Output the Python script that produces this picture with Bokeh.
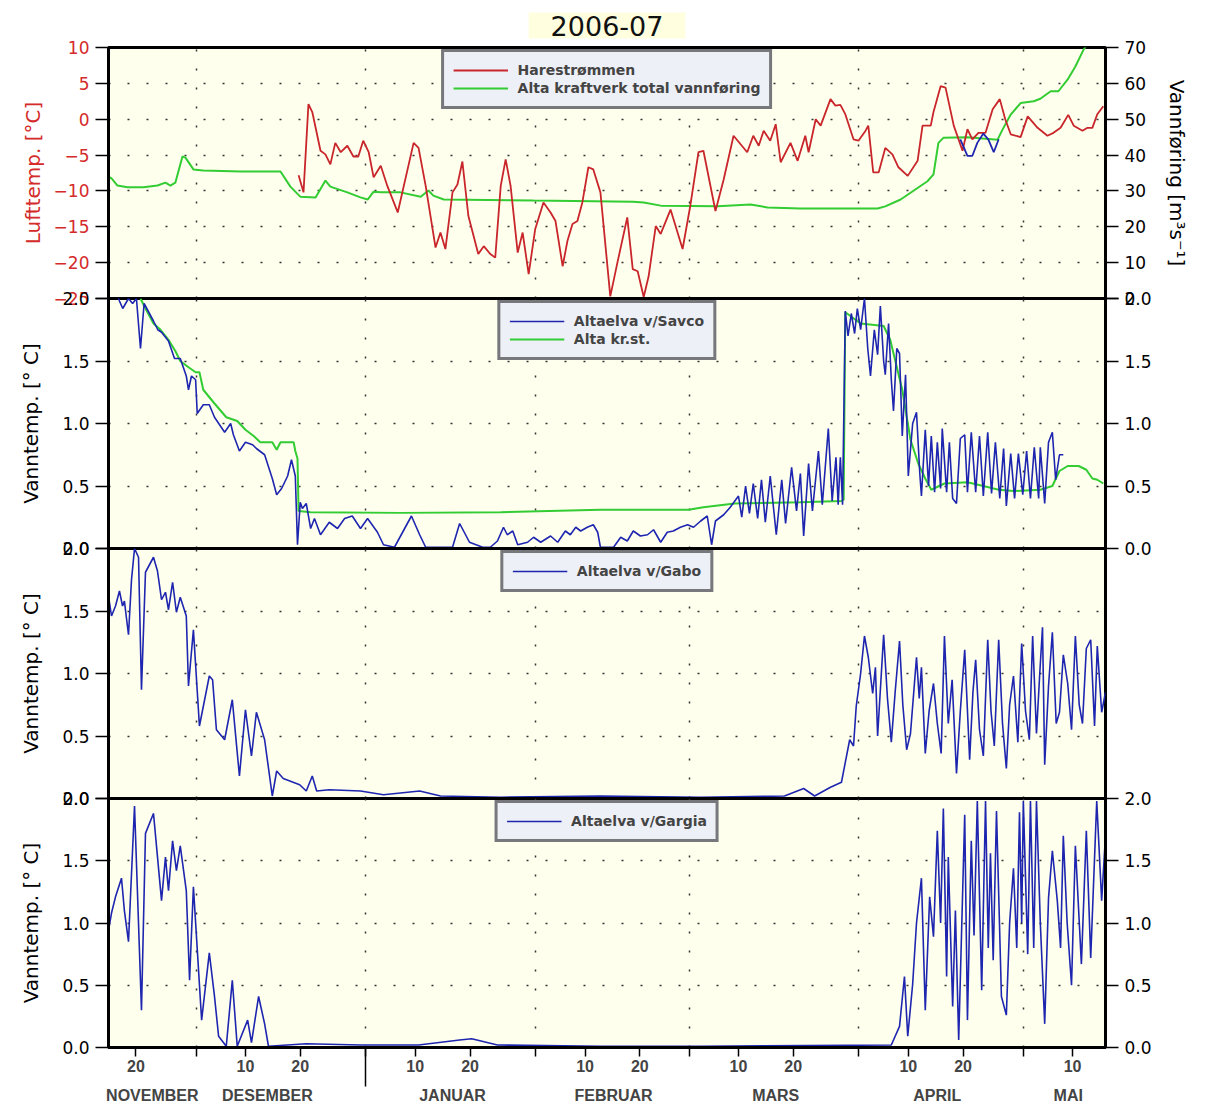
from bokeh.plotting import figure
from bokeh.layouts import column
from bokeh.models import Range1d, LinearAxis, FixedTicker, Grid, Legend, LegendItem
from bokeh.embed import file_html
from bokeh.resources import INLINE

# ---------------- data (x = days since 15 Nov 2006 00:00) ----------------
day_ticks = [5, 25, 35, 56, 66, 87, 97, 115, 125, 146, 156, 176]
day_tick_labels = ["20", "10", "20", "10", "20", "10", "20", "10", "20", "10", "20", "10"]
month_starts = [16, 47, 78, 106, 137, 167]
month_label_pos = [8.0, 29.0, 62.8, 92.2, 121.8, 151.3, 175.2]
month_names = ["NOVEMBER", "DESEMBER", "JANUAR", "FEBRUAR", "MARS", "APRIL", "MAI"]
year_start = [47]

air_ticks = [-25, -20, -15, -10, -5, 0, 5, 10]
air_tick_labels = ["\u221225", "\u221220", "\u221215", "\u221210", "\u22125", "0", "5", "10"]
flow_ticks = [0, 10, 20, 30, 40, 50, 60, 70]
flow_tick_labels = ["0", "10", "20", "30", "40", "50", "60", "70"]
water_ticks = [0.0, 0.5, 1.0, 1.5, 2.0]
water_tick_labels = ["0.0", "0.5", "1.0", "1.5", "2.0"]

# Harestrømmen air temperature
air_day = [34.7, 35.6, 36.5, 37.2, 38.7, 39.6, 40.5, 41.4, 42.4, 43.6, 44.7, 45.6, 46.5, 47.5,
           48.4, 49.7, 50.9, 52.8, 55.7, 56.6, 57.9, 59.7, 60.6, 61.5, 62.8, 63.7, 64.6, 65.7,
           67.5, 68.5, 69.7, 70.6, 71.6, 72.5, 73.4, 74.7, 75.6, 76.7, 77.9, 79.4, 80.7, 81.6,
           82.9, 83.8, 84.7, 85.6, 86.5, 87.6, 88.5, 89.8, 91.6, 92.9, 94.7, 95.7, 96.6, 97.7,
           98.6, 99.9, 100.8, 102.6, 104.8, 106.2, 107.7, 108.6, 110.8, 112.3, 114.1, 116.6,
           117.7, 118.7, 119.6, 120.8, 121.8, 122.7, 124.5, 125.8, 127.2, 127.8, 129.1, 130.0,
           131.8, 132.7, 133.6, 134.5, 136.0, 136.9, 138.2, 138.7, 139.6, 140.6, 141.8, 143.1,
           144.2, 145.9, 147.7, 148.6, 150.1, 150.6, 151.9, 152.8, 154.3, 155.9, 156.8, 157.7,
           158.8, 160.1, 161.4, 162.7, 163.7, 164.7, 166.5, 167.8, 169.6, 171.4, 172.5, 173.8,
           175.2, 176.2, 177.8, 178.7, 179.6, 180.5, 181.6]
air_temp = [-7.8, -10.2, 2.1, 1.0, -4.4, -4.9, -6.3, -3.3, -4.6, -3.7, -5.2, -5.2, -3.0, -4.6,
            -8.1, -6.5, -9.3, -13.0, -3.3, -4.0, -9.3, -17.9, -15.8, -18.1, -10.2, -9.1, -5.9, -13.5,
            -18.8, -17.7, -18.8, -19.3, -9.3, -5.6, -9.3, -18.6, -15.8, -21.6, -15.3, -11.6, -13.0, -14.2,
            -20.5, -16.9, -14.6, -14.2, -11.6, -6.7, -7.0, -10.2, -24.7, -20.0, -13.7, -20.9, -21.2, -24.8,
            -21.9, -14.9, -16.0, -12.6, -18.1, -12.1, -4.6, -4.4, -12.8, -8.4, -2.3, -4.6,
            -2.3, -3.7, -1.6, -3.0, -0.7, -6.0, -3.3, -5.8, -2.3, -4.6, 0.0, -0.9,
            2.8, 1.9, 2.0, 0.7, -2.8, -3.0, -1.6, -0.9, -7.4, -7.4, -4.0, -4.9,
            -6.7, -7.9, -5.8, -0.9, -0.9, 1.0, 4.6, 4.4, -0.9, -4.4, -1.4, -2.8,
            -1.9, -1.9, 1.4, 2.8, 0.0, -2.1, -2.5, 0.4, -1.2, -2.3, -1.9, -1.2,
            0.6, -0.9, -1.6, -1.2, -1.2, 0.7, 1.8]

# second (short) air temperature record, blue
air2_day = [155.5, 156.8, 157.7, 158.6, 159.7, 160.6, 161.6, 162.5]
air2_temp = [-2.8, -5.1, -5.1, -3.3, -2.0, -2.8, -4.6, -2.8]

# Alta kraftverk total vannføring (m3/s)
flow_day = [0.0, 0.55, 1.64, 3.47, 6.39, 8.94, 10.4, 11.3, 12.2, 13.5, 14.05, 15.5, 17.3, 24.1,
            31.4, 33.2, 35.0, 37.8, 39.6, 40.5, 43.6, 46.0, 47.3, 48.4, 49.7, 53.3, 57.0, 58.4,
            59.3, 61.2, 77.6, 95.8, 97.7, 100.8, 111.2, 117.2, 120.3, 126.3, 140.4, 141.8, 144.6,
            149.5, 150.6, 151.5, 152.4, 156.8, 162.3, 163.2, 164.7, 166.5, 168.9, 170.1, 172.0,
            173.4, 175.1, 176.5, 178.0, 178.7]
flow_val = [34.0, 33.5, 31.5, 31.0, 31.0, 31.5, 32.3, 31.5, 32.3, 39.6, 39.3, 36.0, 35.7, 35.4,
            35.4, 31.2, 28.4, 28.2, 32.9, 31.2, 29.6, 28.2, 27.6, 29.8, 29.6, 29.6, 28.4, 30.1,
            28.7, 27.6, 27.3, 27.0, 26.8, 25.9, 25.7, 26.2, 25.4, 25.1, 25.1, 25.7, 27.6,
            32.7, 34.6, 43.4, 44.8, 45.0, 44.3, 47.1, 51.3, 54.5, 55.0, 55.7, 57.8,
            57.8, 61.1, 64.7, 69.4, 71.0]

# Altaelva v/Savco water temperature
savco_day = [1.5, 2.0, 2.6, 3.65, 4.4, 5.1, 5.84, 6.5, 8.21, 9.0, 9.68, 10.95, 12.05, 13.1, 14.2,
             14.6, 15.15, 15.9, 16.2, 17.3, 18.4, 19.35, 21.2, 22.3, 22.8, 23.9, 25.0, 26.3, 27.0,
             28.5, 29.9, 30.7, 31.6, 32.7, 33.4, 34.1, 34.5, 35.0, 35.4, 36.1, 36.9, 37.6, 38.7,
             40.3, 41.8, 43.1, 44.5, 46.0, 47.3, 49.1, 50.2, 52.2, 55.3, 56.8, 57.9, 62.8, 64.1,
             65.9, 68.3, 69.7, 71.0, 72.1, 72.8, 73.8, 74.7, 76.5, 77.6, 78.9, 80.7, 82.0, 83.4,
             84.3, 85.3, 86.2, 87.4, 88.5, 89.3, 89.8, 92.2, 93.5, 94.7, 95.8, 97.1, 98.4, 99.5,
             100.8, 102.0, 103.1, 104.4, 105.7, 106.8, 108.1, 109.3, 110.1, 110.8, 112.3, 113.5,
             115.0, 115.6, 116.3, 117.0, 117.7, 118.5, 119.2, 119.9, 120.8, 121.9, 122.9, 123.6,
             124.7, 125.6, 126.3, 126.9, 127.8, 128.5, 129.6, 130.3, 131.4, 132.1, 132.8, 133.2,
             133.6, 134.0, 134.5, 135.0, 135.6, 136.2, 136.7, 137.3, 138.0, 138.6, 139.1, 139.8,
             140.4, 140.9, 141.5, 141.8, 142.4, 142.9, 143.3, 143.9, 144.4, 144.9, 145.5, 146.0,
             146.8, 147.5, 148.1, 148.4, 149.1, 149.7, 150.2, 150.8, 151.3, 151.9, 152.2, 153.0,
             153.5, 154.1, 154.8, 155.5, 156.3, 156.8, 157.5, 158.3, 159.0, 159.7, 160.5, 161.2,
             161.9, 162.7, 163.4, 163.9, 164.7, 165.4, 166.1, 166.9, 167.6, 168.3, 169.0, 169.8,
             170.1, 170.9, 171.6, 172.3, 172.9, 173.6, 174.3]
savco_temp = [2.05, 1.98, 1.92, 2.0, 1.96, 2.0, 1.60, 1.96, 1.82, 1.75, 1.73, 1.66, 1.52, 1.52, 1.38,
              1.27, 1.38, 1.35, 1.08, 1.15, 1.15, 1.05, 0.93, 1.00, 0.91, 0.78, 0.85, 0.83, 0.80,
              0.75, 0.56, 0.43, 0.48, 0.58, 0.71, 0.58, 0.03, 0.37, 0.32, 0.36, 0.16, 0.24, 0.11,
              0.21, 0.16, 0.24, 0.26, 0.16, 0.24, 0.13, 0.03, 0.01, 0.26, 0.11, 0.01, 0.01, 0.20,
              0.05, 0.01, 0.01, 0.06, 0.17, 0.11, 0.14, 0.03, 0.05, 0.09, 0.05, 0.10, 0.05, 0.14,
              0.11, 0.17, 0.14, 0.17, 0.19, 0.13, 0.01, 0.01, 0.09, 0.06, 0.14, 0.10, 0.11, 0.15,
              0.05, 0.13, 0.14, 0.17, 0.19, 0.17, 0.22, 0.26, 0.03, 0.22, 0.27, 0.33,
              0.42, 0.25, 0.50, 0.28, 0.52, 0.24, 0.55, 0.21, 0.58, 0.11, 0.55, 0.20,
              0.65, 0.30, 0.60, 0.10, 0.68, 0.30, 0.78, 0.35, 0.96, 0.38, 0.73, 0.35,
              0.73, 0.35, 1.90, 1.70, 1.88, 1.72, 1.92, 1.75, 2.00, 1.60, 1.38, 1.75,
              1.55, 1.94, 1.50, 1.39, 1.80, 1.35, 1.10, 1.60, 1.56, 0.90, 1.39, 0.58,
              1.00, 1.09, 0.60, 0.42, 0.95, 0.50, 0.90, 0.45, 0.85, 0.48, 0.96, 0.45,
              0.85, 0.40, 0.36, 0.88, 0.91, 0.45, 0.93, 0.45, 0.90, 0.42, 0.93, 0.44,
              0.85, 0.40, 0.80, 0.34, 0.76, 0.40, 0.76, 0.43, 0.78, 0.40, 0.81, 0.40,
              0.81, 0.36, 0.85, 0.93, 0.55, 0.75, 0.75]

# Alta kr.st. water temperature
krst_day = [5.84, 6.75, 8.21, 9.5, 10.95, 12.2, 13.1, 14.6, 15.9, 16.6, 17.3, 19.35, 21.5, 23.5,
            25.0, 26.5, 27.7, 29.9, 30.7, 31.4, 33.8, 34.1, 34.5, 34.7, 36.9, 53.3, 71.6, 89.8,
            105.9, 108.6, 114.3, 126.3, 133.8, 134.2, 134.5, 137.3, 141.5, 142.7, 144.9, 146.4,
            147.9, 149.1, 150.2, 152.6, 156.8, 159.7, 162.5, 165.2, 170.1, 172.3, 173.6, 175.1,
            177.1, 178.5, 179.6, 180.5, 181.6]
krst_temp = [2.0, 1.92, 1.80, 1.75, 1.67, 1.58, 1.50, 1.45, 1.41, 1.41, 1.27, 1.16, 1.05, 1.02,
             0.95, 0.90, 0.85, 0.85, 0.79, 0.85, 0.85, 0.78, 0.72, 0.30, 0.29, 0.285, 0.29, 0.31,
             0.31, 0.33, 0.36, 0.37, 0.38, 0.39, 1.89, 1.80, 1.78, 1.67, 1.27, 0.87,
             0.67, 0.56, 0.47, 0.52, 0.53, 0.50, 0.47, 0.46, 0.47, 0.50, 0.62, 0.66,
             0.66, 0.63, 0.56, 0.55, 0.52]

# Altaelva v/Gabo water temperature
gabo_day = [0.0, 0.55, 1.28, 2.0, 2.56, 2.9, 3.65, 4.2, 4.75, 5.48, 6.02, 6.75, 8.21, 8.94, 9.68,
            10.4, 10.95, 11.7, 12.4, 13.1, 14.2, 14.6, 15.5, 16.6, 18.4, 19.0, 19.7, 21.2, 22.6,
            23.9, 25.0, 26.1, 27.0, 28.5, 29.9, 30.7, 31.9, 34.9, 36.1, 37.2, 38.0, 40.3, 46.0,
            50.2, 56.8, 60.6, 71.6, 89.8, 108.1, 123.4, 126.9, 128.9, 131.8, 133.8, 135.3, 136.0,
            136.5, 137.3, 138.0, 138.7, 139.5, 140.0, 140.4, 141.5, 142.2, 142.9, 143.6, 144.4,
            145.0, 145.7, 146.4, 147.5, 148.0, 148.4, 149.1, 149.8, 150.6, 151.3, 152.0, 152.6,
            153.3, 154.0, 154.8, 155.5, 156.3, 157.2, 157.8, 158.3, 159.0, 159.7, 160.5, 161.1,
            161.7, 162.5, 163.2, 163.9, 164.5, 165.2, 166.0, 166.7, 167.4, 168.1, 168.7, 169.4,
            170.0, 170.5, 170.9, 171.6, 172.3, 173.0, 173.6, 174.3, 175.1, 175.8, 176.5, 177.2,
            177.8, 178.5, 179.3, 180.0, 180.5, 181.3, 182.0]
gabo_temp = [1.62, 1.46, 1.54, 1.66, 1.54, 1.58, 1.31, 1.75, 2.00, 1.93, 0.87, 1.81, 1.93, 1.82, 1.59,
             1.65, 1.51, 1.73, 1.49, 1.61, 1.46, 0.90, 1.35, 0.58, 0.98, 0.95, 0.55, 0.47, 0.79,
             0.18, 0.71, 0.34, 0.69, 0.47, 0.02, 0.22, 0.16, 0.11, 0.06, 0.18, 0.06, 0.07, 0.06,
             0.03, 0.06, 0.02, 0.01, 0.02, 0.01, 0.02, 0.08, 0.02, 0.09, 0.13, 0.47, 0.42,
             0.74, 1.00, 1.30, 1.13, 0.84, 1.05, 0.50, 1.31, 0.80, 0.45, 0.85, 1.26,
             0.75, 0.39, 0.52, 1.13, 0.80, 1.05, 0.36, 0.70, 0.92, 0.60, 0.36, 1.30,
             0.60, 0.95, 0.20, 0.70, 1.19, 0.31, 0.85, 1.11, 0.55, 0.34, 1.27, 0.70,
             0.42, 1.27, 0.60, 0.24, 0.75, 0.98, 0.45, 1.24, 0.70, 0.47, 1.30, 0.52,
             1.00, 1.37, 0.27, 0.90, 1.33, 0.60, 0.69, 1.15, 0.92, 0.55, 1.30, 0.75,
             0.60, 1.20, 1.27, 0.58, 1.22, 0.69, 0.85]

# Altaelva v/Gargia water temperature
gargia_day = [0.0, 0.55, 1.28, 2.37, 2.9, 3.65, 4.75, 6.02, 6.75, 8.21, 9.68, 10.4, 10.95, 11.7,
              12.4, 13.1, 14.2, 14.8, 15.5, 17.0, 18.4, 19.35, 20.1, 21.5, 22.6, 23.5, 25.4, 26.1,
              27.4, 28.5, 29.2, 36.1, 46.0, 56.6, 64.1, 66.3, 71.0, 89.8, 108.1, 142.9, 144.4,
              145.3, 145.9, 146.8, 147.5, 148.4, 149.1, 149.9, 150.6, 151.3, 151.9, 152.4, 153.0,
              153.3, 154.1, 154.6, 155.2, 156.3, 156.8, 157.5, 158.0, 158.6, 159.4, 160.1, 160.6,
              161.0, 161.5, 162.1, 163.0, 163.9, 164.5, 165.2, 165.8, 166.3, 166.7, 167.0, 167.8,
              168.3, 168.9, 169.4, 170.1, 170.9, 171.6, 172.3, 173.2, 173.8, 174.3, 175.0, 175.8,
              176.5, 177.6, 178.5, 179.3, 180.4, 181.3, 182.0]
gargia_temp = [0.94, 1.08, 1.21, 1.36, 1.10, 0.85, 1.94, 0.30, 1.72, 1.88, 1.18, 1.53, 1.26, 1.66,
               1.42, 1.62, 1.26, 0.54, 1.29, 0.22, 0.76, 0.41, 0.09, 0.01, 0.54, 0.01, 0.22, 0.04,
               0.41, 0.19, 0.01, 0.03, 0.02, 0.02, 0.06, 0.07, 0.02, 0.01, 0.01, 0.02, 0.17,
               0.57, 0.09, 0.51, 1.00, 1.36, 0.30, 1.21, 0.89, 1.74, 1.00, 1.92, 0.57,
               1.53, 0.33, 1.10, 0.06, 1.87, 0.22, 1.66, 0.90, 1.98, 0.46, 1.98, 0.80,
               1.56, 0.70, 1.90, 0.41, 0.26, 1.00, 1.44, 0.80, 1.89, 1.00, 1.98, 0.75,
               1.98, 0.80, 1.98, 1.00, 0.19, 1.20, 1.58, 1.18, 0.80, 1.70, 1.00, 0.50,
               1.62, 0.67, 1.74, 0.72, 1.98, 1.18, 1.70]

# ---------------- styling ----------------
FONT = "DejaVu Sans"
XFONT = "Liberation Sans Narrow, Liberation Sans"
BG = "#FFFFEE"
RED = "#C8262B"
RED_TXT = "#D42A2A"
GREEN = "#33CC33"
BLUE = "#1E26B0"
FRAME_W = 997
LEFT = 108
RIGHT = 92


def make_panel(y0, y1, frame_h, top, bottom, margin_top=0):
    p = figure(frame_width=FRAME_W, frame_height=frame_h,
               x_range=Range1d(0, 182), y_range=Range1d(y0, y1),
               x_axis_location=None, y_axis_location=None,
               toolbar_location=None, output_backend="svg",
               min_border_left=LEFT, min_border_right=RIGHT,
               min_border_top=top, min_border_bottom=bottom,
               background_fill_color=BG, border_fill_color=None,
               outline_line_color="black", outline_line_width=3)
    p.grid.visible = False
    if margin_top:
        p.margin = (margin_top, 0, 0, 0)
    return p


def add_grids(p, yticks):
    p.add_layout(Grid(dimension=0, ticker=FixedTicker(ticks=month_starts),
                      grid_line_color="#333333", grid_line_dash="2 17", grid_line_width=1.5))
    p.add_layout(Grid(dimension=1, ticker=FixedTicker(ticks=yticks),
                      grid_line_color="#333333", grid_line_dash="2 17", grid_line_width=1.5))


def style_axis(ax, color="black", label_standoff=14):
    ax.major_tick_out = 13
    ax.major_tick_in = 0
    ax.minor_tick_out = 0
    ax.minor_tick_in = 0
    ax.major_tick_line_width = 1.5
    ax.axis_line_width = 3
    ax.major_label_text_font = FONT
    ax.major_label_text_font_size = "17px"
    ax.major_label_text_color = color
    ax.major_label_standoff = 6
    ax.axis_label_text_font = FONT
    ax.axis_label_text_font_size = "20px"
    ax.axis_label_text_font_style = "normal"
    ax.axis_label_text_color = color
    ax.axis_label_standoff = label_standoff


def water_axis(p, side, label=None):
    ax = LinearAxis(ticker=FixedTicker(ticks=water_ticks),
                    major_label_overrides=dict(zip(water_ticks, water_tick_labels)))
    if label:
        ax.axis_label = label
    style_axis(ax, label_standoff=16)
    p.add_layout(ax, side)


def style_legend(lg):
    lg.location = "top_center"
    lg.margin = 2
    lg.padding = 9
    lg.spacing = 0
    lg.glyph_width = 55
    lg.glyph_height = 18
    lg.label_height = 18
    lg.label_standoff = 10
    lg.label_text_font = FONT
    lg.label_text_font_size = "14px"
    lg.label_text_font_style = "bold"
    lg.border_line_color = "black"
    lg.border_line_width = 3
    lg.background_fill_color = "#EEF0F8"
    lg.background_fill_alpha = 1.0


# ---------------- panel 1: air temperature + discharge ----------------
p1 = make_panel(-25, 10, 251, 47, 12)
p1.extra_y_ranges = {"q": Range1d(0, 70)}
add_grids(p1, [-20, -15, -10, -5, 0, 5])
r_flow = p1.line(flow_day, flow_val, y_range_name="q", color=GREEN, line_width=2)
r_air = p1.line(air_day, air_temp, color=RED, line_width=1.8)
p1.line(air2_day, air2_temp, color=BLUE, line_width=1.8)
ax_air = LinearAxis(ticker=FixedTicker(ticks=air_ticks),
                    major_label_overrides=dict(zip(air_ticks, air_tick_labels)),
                    axis_label="Lufttemp. [°C]")
style_axis(ax_air, RED_TXT, label_standoff=6)
ax_air.major_tick_line_color = "black"
ax_air.axis_line_color = "black"
p1.add_layout(ax_air, "left")
ax_q = LinearAxis(y_range_name="q", ticker=FixedTicker(ticks=flow_ticks),
                  major_label_overrides=dict(zip(flow_ticks, flow_tick_labels)),
                  axis_label="Vannføring [m³s⁻¹]")
style_axis(ax_q, label_standoff=16)
p1.add_layout(ax_q, "right")
lg1 = Legend(items=[LegendItem(label="Harestrømmen", renderers=[r_air]),
                    LegendItem(label="Alta kraftverk total vannføring", renderers=[r_flow])])
style_legend(lg1)
p1.add_layout(lg1)
p1.title.text = "2006-07"
p1.title.align = "center"
p1.title.text_font = FONT
p1.title.text_font_size = "27px"
p1.title.text_font_style = "normal"
p1.title.text_color = "#111111"
p1.title.background_fill_color = "#FFFFE0"
p1.title.standoff = 18
p1.title.padding = dict(left=22, right=22, top=3, bottom=3)

# ---------------- panel 2: Savco + Alta kr.st. ----------------
p2 = make_panel(0, 2, 250, 12, 12, margin_top=-24)
add_grids(p2, [0.5, 1.0, 1.5])
r_krst = p2.line(krst_day, krst_temp, color=GREEN, line_width=2)
r_savco = p2.line(savco_day, savco_temp, color=BLUE, line_width=1.6)
water_axis(p2, "left", "Vanntemp. [° C]")
water_axis(p2, "right")
lg2 = Legend(items=[LegendItem(label="Altaelva v/Savco", renderers=[r_savco]),
                    LegendItem(label="Alta kr.st.", renderers=[r_krst])])
style_legend(lg2)
p2.add_layout(lg2)

# ---------------- panel 3: Gabo ----------------
p3 = make_panel(0, 2, 250, 12, 12, margin_top=-24)
add_grids(p3, [0.5, 1.0, 1.5])
r_gabo = p3.line(gabo_day, gabo_temp, color=BLUE, line_width=1.6)
water_axis(p3, "left", "Vanntemp. [° C]")
lg3 = Legend(items=[LegendItem(label="Altaelva v/Gabo", renderers=[r_gabo])])
style_legend(lg3)
p3.add_layout(lg3)

# ---------------- panel 4: Gargia + time axis ----------------
p4 = make_panel(0, 2, 249, 12, 12, margin_top=-24)
add_grids(p4, [0.5, 1.0, 1.5])
r_gargia = p4.line(gargia_day, gargia_temp, color=BLUE, line_width=1.6)
water_axis(p4, "left", "Vanntemp. [° C]")
water_axis(p4, "right")
lg4 = Legend(items=[LegendItem(label="Altaelva v/Gargia", renderers=[r_gargia])])
style_legend(lg4)
p4.add_layout(lg4)

xa1 = LinearAxis(ticker=FixedTicker(ticks=day_ticks, minor_ticks=month_starts),
                 major_label_overrides=dict(zip(day_ticks, day_tick_labels)))
xa1.major_tick_out = 9
xa1.major_tick_in = 0
xa1.minor_tick_out = 9
xa1.minor_tick_in = 0
xa1.major_tick_line_width = 1.5
xa1.minor_tick_line_width = 1.5
xa1.axis_line_width = 3
xa1.major_label_standoff = 3
xa1.major_label_text_font = XFONT
xa1.major_label_text_font_style = "bold"
xa1.major_label_text_font_size = "16px"
p4.add_layout(xa1, "below")

xa2 = LinearAxis(ticker=FixedTicker(ticks=month_label_pos, minor_ticks=year_start),
                 major_label_overrides=dict(zip(month_label_pos, month_names)))
xa2.axis_line_color = None
xa2.major_tick_out = 0
xa2.major_tick_in = 0
xa2.minor_tick_in = 26
xa2.minor_tick_out = 12
xa2.minor_tick_line_width = 1.5
xa2.major_label_standoff = 0
xa2.major_label_text_font = XFONT
xa2.major_label_text_font_style = "bold"
xa2.major_label_text_font_size = "16px"
p4.add_layout(xa2, "below")

layout = column(p1, p2, p3, p4, spacing=0)

with open("out.html", "w") as f:
    f.write(file_html(layout, INLINE))
